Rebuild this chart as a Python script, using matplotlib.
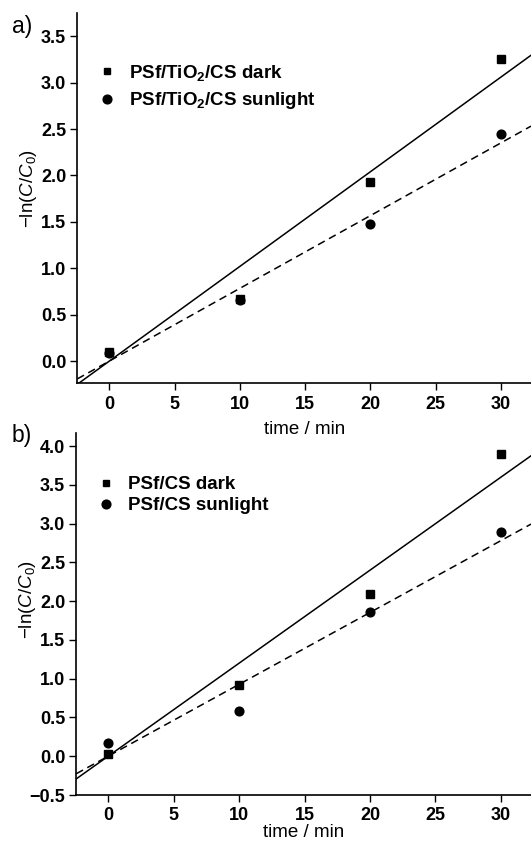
import numpy as np
import matplotlib
matplotlib.use("Agg")
import matplotlib.pyplot as plt
from matplotlib.lines import Line2D

plt.rcParams['font.family'] = ['Liberation Sans', 'DejaVu Sans']
plt.rcParams['mathtext.fontset'] = 'custom'
plt.rcParams['mathtext.rm'] = 'Liberation Sans'
plt.rcParams['mathtext.it'] = 'Liberation Sans:italic'
plt.rcParams['mathtext.bf'] = 'Liberation Sans:bold'

# ---- data ----
time = [0, 10, 20, 30]
a_dark = [0.10, 0.67, 1.93, 3.25]
a_sun = [0.09, 0.66, 1.48, 2.45]
b_dark = [0.03, 0.92, 2.09, 3.90]
b_sun = [0.17, 0.59, 1.86, 2.89]

a_labels = [r"PSf/TiO$_\mathbf{2}$/CS dark", r"PSf/TiO$_\mathbf{2}$/CS sunlight"]
b_labels = ["PSf/CS dark", "PSf/CS sunlight"]
xticks = [0, 5, 10, 15, 20, 25, 30]
a_yticks = [0.0, 0.5, 1.0, 1.5, 2.0, 2.5, 3.0, 3.5]
b_yticks = [-0.5, 0.0, 0.5, 1.0, 1.5, 2.0, 2.5, 3.0, 3.5, 4.0]

W, H = 531, 841
fig = plt.figure(figsize=(W / 100, H / 100), dpi=100)

def px_axes(left, top, right, bottom):
    ax = fig.add_axes([left / W, 1 - bottom / H, (right - left) / W, (bottom - top) / H])
    ax.patch.set_alpha(0)
    return ax

axa = px_axes(77.3, 13, 531, 383.3)
axb = px_axes(76.3, 433, 531, 795)

TICK_FS = 13
LEG_FS = 13.5
LAB_FS = 13.5

def origin_slope(x, y):
    x = np.asarray(x, float); y = np.asarray(y, float)
    return float(np.sum(x * y) / np.sum(x * x))

def setup(ax, dark, sun, labels, xlim, ylim, yticks, leg_y, labelspacing, ylab_y, xlabpad):
    ax.set_xlim(*xlim)
    ax.set_ylim(*ylim)
    xs = np.array(xlim)
    ax.plot(xs, origin_slope(time, dark) * xs, color='black', lw=1.1, zorder=2)
    ax.plot(xs, origin_slope(time, sun) * xs, color='black', lw=1.1,
            linestyle=(0, (5, 3.2)), zorder=2)
    ax.plot(time, dark, 's', color='black', ms=6, zorder=3, clip_on=False)
    ax.plot(time, sun, 'o', color='black', ms=6.3, zorder=3, clip_on=False)
    for s in ['top', 'right']:
        ax.spines[s].set_visible(False)
    for s in ['left', 'bottom']:
        ax.spines[s].set_linewidth(1.2)
    ax.set_xticks(xticks)
    ax.set_yticks(yticks)
    ax.set_yticklabels([f"{v:.1f}".replace('-', '\u2212') for v in yticks])
    ax.tick_params(direction='out', length=5, width=1.0, labelsize=TICK_FS)
    ax.tick_params(axis='x', pad=4)
    ax.tick_params(axis='y', pad=3)
    for t in ax.get_xticklabels() + ax.get_yticklabels():
        t.set_fontweight('bold')
    ax.set_xlabel("time / min", fontsize=LAB_FS, labelpad=xlabpad)
    ax.set_ylabel("\u2212ln($\\mathit{C}$/$\\mathit{C}_0$)", fontsize=LAB_FS)
    ax.yaxis.set_label_coords(-0.085, ylab_y)
    handles = [Line2D([], [], ls='none', marker='s', ms=5, color='black'),
               Line2D([], [], ls='none', marker='o', ms=6.3, color='black')]
    ax.legend(handles, labels, loc='center left', bbox_to_anchor=(0.045, leg_y),
              frameon=False, handlelength=1.0, handletextpad=0.65,
              labelspacing=labelspacing, borderpad=0, borderaxespad=0,
              prop={'weight': 'bold', 'size': LEG_FS})

setup(axa, a_dark, a_sun, a_labels, (-2.46, 32.3), (-0.24, 3.75), a_yticks, 0.80, 0.4, 0.527, 6)
setup(axb, b_dark, b_sun, b_labels, (-2.43, 32.3), (-0.5, 4.17), b_yticks, 0.828, 0.22, 0.541, -0.5)

fig.text(12 / W, 1 - 27 / H, "a)", fontsize=16.5, va='center', ha='left')
fig.text(12 / W, 1 - 435 / H, "b)", fontsize=16.5, va='center', ha='left')

fig.savefig("out.png", dpi=100)
